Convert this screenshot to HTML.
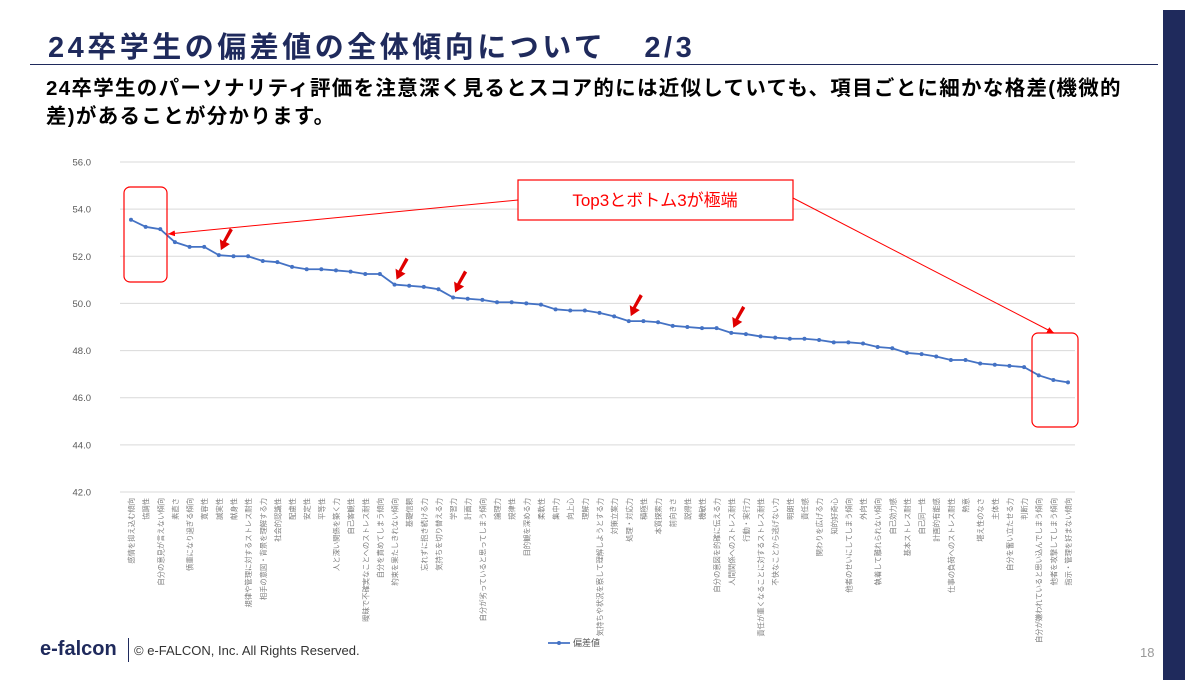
<!DOCTYPE html>
<html><head><meta charset="utf-8">
<style>
body{margin:0;width:1200px;height:680px;background:#fff;overflow:hidden;font-family:"Liberation Sans","Noto Sans CJK JP",sans-serif;position:relative}
.t{position:absolute;white-space:nowrap}
</style></head><body>
<div class="t" style="left:48px;top:24px;font-size:29px;letter-spacing:3.5px;font-weight:bold;color:#1f2a5c">24卒学生の偏差値の全体傾向について<span style="display:inline-block;width:38px"></span>2/3</div>
<div style="position:absolute;left:30px;top:64px;width:1128px;height:1px;background:#1f2a5c"></div>
<div style="position:absolute;left:1163px;top:10px;width:22px;height:670px;background:#1f2a5c"></div>
<div class="t" style="left:46px;top:75px;font-size:20.5px;letter-spacing:1.3px;font-weight:bold;color:#000;line-height:28px">24卒学生のパーソナリティ評価を注意深く見るとスコア的には近似していても、項目ごとに細かな格差(機微的<br>差)があることが分かります。</div>
<svg id="chart" width="1200" height="680" style="position:absolute;left:0;top:0"></svg>
<div class="t" style="left:40px;top:638px;font-size:20px;font-weight:bold;color:#1f2a5c">e-falcon</div>
<div style="position:absolute;left:128px;top:638px;width:1px;height:24px;background:#1f2a5c"></div>
<div class="t" style="left:134px;top:643px;font-size:13px;color:#333">© e-FALCON, Inc. All Rights Reserved.</div>
<div class="t" style="left:1140px;top:645px;font-size:13px;color:#999">18</div>
<script>
const categories=["感情を抑え込む傾向","協調性","自分の意見が言えない傾向","素直さ","慎重になり過ぎる傾向","寛容性","誠実性","献身性","規律や管理に対するストレス耐性","相手の意図・背景を理解する力","社会的認識性","配慮性","安定性","平等性","人と深い関係を築く力","自己客観性","曖昧で不確実なことへのストレス耐性","自分を責めてしまう傾向","約束を果たしきれない傾向","基礎信頼","忘れずに抱き続ける力","気持ちを切り替える力","学習力","計画力","自分が劣っていると思ってしまう傾向","論理力","規律性","目的観を深める力","柔軟性","集中力","向上心","理解力","気持ちや状況を察して理解しようとする力","対策立案力","処理・対応力","積極性","本質探索力","前向きさ","説得性","機敏性","自分の意図を的確に伝える力","人間関係へのストレス耐性","行動・実行力","責任が重くなることに対するストレス耐性","不快なことから逃げない力","明朗性","責任感","関わりを広げる力","知的好奇心","他者のせいにしてしまう傾向","外向性","執着して離れられない傾向","自己効力感","基本ストレス耐性","自己同一性","計画的有能感","仕事の負荷へのストレス耐性","熱意","堪え性のなさ","主体性","自分を奮い立たせる力","判断力","自分が嫌われていると思い込んでしまう傾向","他者を攻撃してしまう傾向","指示・管理を好まない傾向"];
const values=[53.55,53.25,53.15,52.6,52.4,52.4,52.05,52.0,52.0,51.8,51.75,51.55,51.45,51.45,51.4,51.35,51.25,51.25,50.8,50.75,50.7,50.6,50.25,50.2,50.15,50.05,50.05,50.0,49.95,49.75,49.7,49.7,49.6,49.45,49.25,49.25,49.2,49.05,49.0,48.95,48.95,48.75,48.7,48.6,48.55,48.5,48.5,48.45,48.35,48.35,48.3,48.15,48.1,47.9,47.85,47.75,47.6,47.6,47.45,47.4,47.35,47.3,46.95,46.75,46.65];
const yTicks=[42,44,46,48,50,52,54,56];
const highlighted=[6,18,22,34,41];
const NS="http://www.w3.org/2000/svg";
const svg=document.getElementById('chart');
const x0=131,x1=1068,yb=492,yt=162,vmin=42,vmax=56;
function xs(i){return x0+(x1-x0)*i/(categories.length-1);}
function ys(v){return yb-(v-vmin)/(vmax-vmin)*(yb-yt);}
function mk(tag,attrs){const e=document.createElementNS(NS,tag);for(const k in attrs)e.setAttribute(k,attrs[k]);svg.appendChild(e);return e;}
yTicks.forEach(v=>{
 const l=mk('line',{x1:120,x2:1075,y1:ys(v),y2:ys(v),stroke:'#d9d9d9','stroke-width':1});
 
 
 const t=mk('text',{x:91,y:ys(v)+3.5,'text-anchor':'end','font-size':9.5,fill:'#595959'});
 t.textContent=v.toFixed(1);
 
 
});
categories.forEach((c,i)=>{
 const t=mk('text',{transform:`translate(${xs(i)+3},498) rotate(-90)`,'text-anchor':'end','font-size':7.3,fill:'#7f7f7f'});
 t.textContent=c;
 
 
});
const p=mk('polyline',{points:values.map((v,i)=>xs(i)+','+ys(v)).join(' '),fill:'none',stroke:'#4472c4','stroke-width':1.8});


values.forEach((v,i)=>{
 const c=mk('circle',{cx:xs(i),cy:ys(v),r:2,fill:'#4472c4'});
 
 
});
highlighted.forEach(i=>{
 const x=xs(i)+2,y=ys(values[i])-5;
 const a=mk('path',{d:`M${x+12},${y-20} L${x+5},${y-8} L${x+9},${y-6} L${x},${y} L${x-1},${y-11} L${x+2},${y-9} L${x+9},${y-22} Z`,fill:'#e00000'});
 
 
});
let l=mk('line',{x1:548,x2:570,y1:643,y2:643,stroke:'#4472c4','stroke-width':1.8});


let lc=mk('circle',{cx:559,cy:643,r:2,fill:'#4472c4'});


let lt=mk('text',{x:573,y:646,'font-size':9,fill:'#595959'});
lt.textContent='偏差値';


let r1=mk('rect',{x:124,y:187,width:43,height:95,rx:6,fill:'none',stroke:'#ff0000','stroke-width':1.2});


let r2=mk('rect',{x:1032,y:333,width:46,height:94,rx:6,fill:'none',stroke:'#ff0000','stroke-width':1.2});


let defs=mk('defs',{});
defs.innerHTML='<marker id="ah" markerWidth="8" markerHeight="8" refX="7" refY="4" orient="auto"><path d="M0,1 L7,4 L0,7 Z" fill="#ff0000"/></marker>';
let a1=mk('line',{x1:518,y1:200,x2:168,y2:234,stroke:'#ff0000','stroke-width':1,'marker-end':'url(#ah)'});


let a2=mk('line',{x1:793,y1:198,x2:1054,y2:333,stroke:'#ff0000','stroke-width':1,'marker-end':'url(#ah)'});


let cb=mk('rect',{x:518,y:180,width:275,height:40,fill:'#fff',stroke:'#ff0000','stroke-width':1.2});


let ct=mk('text',{x:655,y:206,'text-anchor':'middle','font-size':17,fill:'#ff0000'});
ct.textContent='Top3とボトム3が極端';


</script>
</body></html>
